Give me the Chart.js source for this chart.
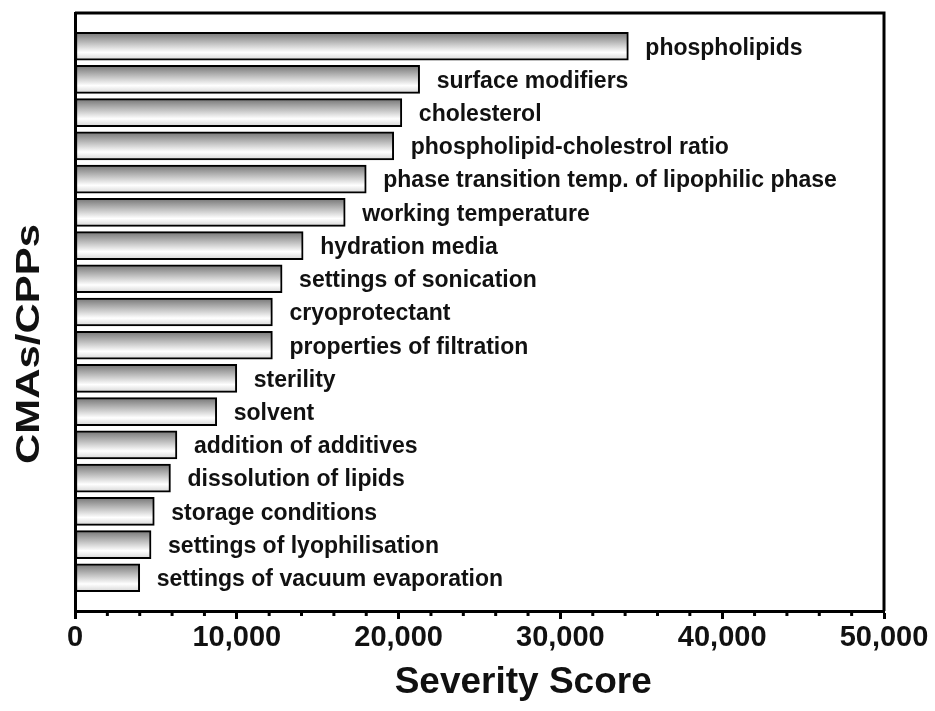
<!DOCTYPE html>
<html>
<head>
<meta charset="utf-8">
<script src="https://cdn.jsdelivr.net/npm/chart.js@4.4.0/dist/chart.umd.min.js"></script>
<style>
    html, body { margin: 0; padding: 0; background: #fff; }
    canvas { display: block; }
</style>
</head>
<body>
<canvas id="myChart" width="935" height="711"></canvas>
<script>
// CMAs / CPPs and their severity scores, top to bottom
var categories = [
    "phospholipids",
    "surface modifiers",
    "cholesterol",
    "phospholipid-cholestrol ratio",
    "phase transition temp. of lipophilic phase",
    "working temperature",
    "hydration media",
    "settings of sonication",
    "cryoprotectant",
    "properties of filtration",
    "sterility",
    "solvent",
    "addition of additives",
    "dissolution of lipids",
    "storage conditions",
    "settings of lyophilisation",
    "settings of vacuum evaporation"
];
var scores = [34200, 21300, 20200, 19700, 18000, 16700, 14100, 12800, 12200, 12200,
              10000, 8760, 6300, 5900, 4900, 4700, 4000];
var xMin = 0, xMax = 50000, xStep = 10000, xMinorStep = 2000;
var xTitle = 'Severity Score';
var yTitle = 'CMAs/CPPs';

var FONT = '"Liberation Sans", Arial, Helvetica, sans-serif';

// empty slot above and below so the bars sit inside the frame like the original
var labels = [''].concat(categories).concat(['']);
var data = [null].concat(scores).concat([null]);

// bar names written to the right of each bar
var barLabels = {
    id: 'barLabels',
    afterDatasetsDraw: function (chart) {
        var ctx = chart.ctx;
        var meta = chart.getDatasetMeta(0);
        ctx.save();
        ctx.font = 'bold 23px ' + FONT;
        ctx.fillStyle = '#111';
        ctx.textAlign = 'left';
        ctx.textBaseline = 'middle';
        meta.data.forEach(function (el, i) {
            if (data[i] === null) return;
            ctx.fillText(labels[i], el.x + 17, el.y + 2);
        });
        ctx.restore();
    }
};

// top/right frame lines, minor ticks and the two axis titles
var frame = {
    id: 'frame',
    afterDraw: function (chart) {
        var ctx = chart.ctx;
        var a = chart.chartArea;
        var x = chart.scales.x;
        ctx.save();
        ctx.strokeStyle = '#000';
        ctx.lineWidth = 3;
        ctx.beginPath();
        ctx.moveTo(a.left, a.top);
        ctx.lineTo(a.right, a.top);
        ctx.lineTo(a.right, a.bottom);
        ctx.stroke();
        for (var v = xMin + xMinorStep; v < xMax; v += xMinorStep) {
            if (v % xStep === 0) continue;
            var px = x.getPixelForValue(v);
            ctx.beginPath();
            ctx.moveTo(px, a.bottom);
            ctx.lineTo(px, a.bottom + 5);
            ctx.stroke();
        }

        ctx.fillStyle = '#111';
        ctx.textAlign = 'center';
        ctx.textBaseline = 'middle';
        ctx.font = 'bold 37px ' + FONT;
        ctx.fillText(xTitle, x.getPixelForValue(27700), 683);

        ctx.translate(30, 344);
        ctx.rotate(-Math.PI / 2);
        ctx.scale(1.27, 1);
        ctx.font = 'bold 33px ' + FONT;
        ctx.fillText(yTitle, 0, 0);
        ctx.restore();
    }
};

var ctx = document.getElementById('myChart').getContext('2d');
var chart = new Chart(ctx, {
    type: 'bar',
    data: {
        labels: labels,
        datasets: [{
            data: data,
            borderColor: '#000',
            borderWidth: 2,
            borderSkipped: false,
            barThickness: 28,
            backgroundColor: function (context) {
                var c = context.chart;
                if (!c.chartArea || !c.scales.y) return '#bbb';
                var cy = c.scales.y.getPixelForValue(context.dataIndex);
                var g = c.ctx.createLinearGradient(0, cy - 14, 0, cy + 14);
                g.addColorStop(0, '#747474');
                g.addColorStop(0.72, '#ffffff');
                g.addColorStop(1, '#d4d4d4');
                return g;
            }
        }]
    },
    options: {
        indexAxis: 'y',
        responsive: false,
        animation: false,
        layout: { padding: { left: 0, top: 13, right: 51, bottom: 0 } },
        plugins: {
            legend: { display: false },
            tooltip: { enabled: false }
        },
        scales: {
            x: {
                min: xMin,
                max: xMax,
                afterFit: function (s) { s.height = 100; },
                ticks: {
                    stepSize: xStep,
                    color: '#111',
                    padding: 2,
                    maxRotation: 0,
                    font: { family: FONT, size: 29, weight: 'bold' },
                    callback: function (v) { return Number(v).toLocaleString('en-US'); }
                },
                grid: {
                    drawOnChartArea: false,
                    tickLength: 8,
                    tickWidth: 3,
                    tickColor: '#000'
                },
                border: { display: true, color: '#000', width: 3 }
            },
            y: {
                afterFit: function (s) { s.width = 75; },
                offset: false,
                ticks: { display: false },
                grid: { display: false },
                border: { display: true, color: '#000', width: 3 }
            }
        }
    },
    plugins: [barLabels, frame]
});
</script>
</body>
</html>
